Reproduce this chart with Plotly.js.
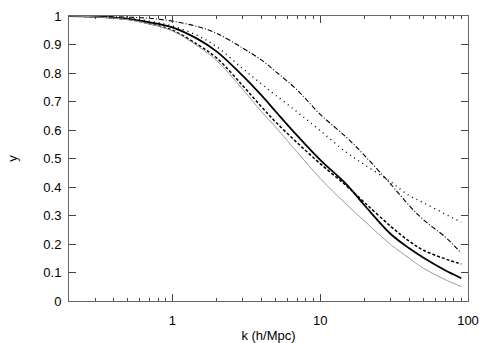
<!DOCTYPE html>
<html>
<head>
<meta charset="utf-8">
<script src="https://cdn.plot.ly/plotly-3.0.1.min.js"></script>
<style>
  html, body { margin: 0; padding: 0; background: #fff; }
  #chart { width: 491px; height: 343px; }
</style>
</head>
<body>
<div id="chart"></div>
<script>
  // -- Data -----------------------------------------------------------------
  var k = [0.2, 0.3, 0.5, 0.7, 1, 1.5, 2, 3, 4, 5, 7, 10, 15, 20, 30, 40, 50, 70, 80, 90];

  var ySolid   = [1.0, 0.998, 0.99, 0.978, 0.96, 0.918, 0.875, 0.79, 0.722, 0.665, 0.58, 0.495, 0.41, 0.335, 0.235, 0.185, 0.152, 0.108, 0.093, 0.08];
  var yDashed  = [1.0, 0.997, 0.988, 0.973, 0.95, 0.898, 0.852, 0.755, 0.682, 0.628, 0.555, 0.482, 0.405, 0.345, 0.262, 0.21, 0.178, 0.148, 0.138, 0.13];
  var yGray    = [1.0, 0.997, 0.987, 0.972, 0.948, 0.893, 0.843, 0.742, 0.665, 0.61, 0.522, 0.43, 0.34, 0.28, 0.198, 0.15, 0.115, 0.075, 0.062, 0.05];
  var yDashDot = [1.0, 0.999, 0.996, 0.992, 0.982, 0.962, 0.939, 0.887, 0.846, 0.805, 0.74, 0.655, 0.575, 0.51, 0.41, 0.335, 0.285, 0.225, 0.196, 0.168];
  var yDotted  = [1.0, 0.998, 0.992, 0.982, 0.965, 0.93, 0.892, 0.815, 0.762, 0.722, 0.663, 0.598, 0.522, 0.478, 0.418, 0.37, 0.345, 0.305, 0.29, 0.277];

  var yTicks = [0, 0.1, 0.2, 0.3, 0.4, 0.5, 0.6, 0.7, 0.8, 0.9, 1];
  var xTicks = [1, 10, 100];
  var xAllTicks = [0.2, 0.3, 0.4, 0.5, 0.6, 0.7, 0.8, 0.9, 1, 2, 3, 4, 5, 6, 7, 8, 9, 10,
                   20, 30, 40, 50, 60, 70, 80, 90, 100];

  // -- Styling ----------------------------------------------------------------
  var FONT = 'Liberation Sans, Arial, sans-serif';
  var INK = '#000000';
  var AXIS = '#444444';
  var X_RANGE = [Math.log10(0.2), 2];

  function line(y, color, width, dash, xa) {
    return {
      type: 'scatter',
      mode: 'lines',
      x: k,
      y: y,
      xaxis: xa || 'x',
      line: { color: color, width: width, dash: dash, shape: 'spline', smoothing: 1 },
      hoverinfo: 'skip',
      showlegend: false
    };
  }

  // gray curve sits on the overlay axis so that axis is always drawn
  var traces = [
    line(yGray, '#9a9a9a', 1, 'solid', 'x2'),
    line(yDotted, INK, 1.4, '1px,4px'),
    line(yDashDot, INK, 1.1, '5px,2px,1px,2px'),
    line(yDashed, INK, 1.5, '3px,2px'),
    line(ySolid, INK, 1.8, 'solid')
  ];

  // Main x axis carries every log tick (short) plus decade labels;
  // overlay axis adds the longer decade ticks.
  var layout = {
    width: 491,
    height: 343,
    paper_bgcolor: '#ffffff',
    plot_bgcolor: '#ffffff',
    margin: { l: 69, r: 23, t: 16, b: 42 },
    font: { family: FONT, size: 13, color: INK },
    showlegend: false,
    xaxis: {
      type: 'log',
      range: X_RANGE,
      tickvals: xAllTicks,
      ticktext: xAllTicks.map(function (v) { return xTicks.indexOf(v) >= 0 ? String(v) : ''; }),
      ticks: 'inside',
      ticklen: 3,
      tickwidth: 1,
      tickcolor: AXIS,
      showline: true,
      linecolor: '#666666',
      linewidth: 1,
      mirror: 'ticks',
      showgrid: false,
      zeroline: false,
      tickfont: { family: FONT, size: 13, color: INK },
      ticklabelstandoff: 7,
      title: { text: 'k (h/Mpc)', font: { family: FONT, size: 13, color: INK }, standoff: 10 }
    },
    xaxis2: {
      type: 'log',
      range: X_RANGE,
      overlaying: 'x',
      anchor: 'y',
      side: 'bottom',
      tickvals: xTicks,
      showticklabels: false,
      ticks: 'inside',
      ticklen: 7,
      tickwidth: 1,
      tickcolor: AXIS,
      showline: true,
      linecolor: '#666666',
      mirror: 'ticks',
      showgrid: false,
      zeroline: false
    },
    yaxis: {
      range: [0, 1],
      tickvals: yTicks,
      ticktext: yTicks.map(String),
      ticks: 'inside',
      ticklen: 7,
      tickwidth: 1,
      tickcolor: AXIS,
      showline: true,
      linecolor: '#666666',
      linewidth: 1,
      mirror: 'ticks',
      showgrid: false,
      zeroline: false,
      tickfont: { family: FONT, size: 13, color: INK },
      ticklabelstandoff: 4,
      title: { text: 'y', font: { family: FONT, size: 13, color: INK }, standoff: 22 }
    }
  };

  Plotly.newPlot('chart', traces, layout, { displayModeBar: false, staticPlot: true });
</script>
</body>
</html>
